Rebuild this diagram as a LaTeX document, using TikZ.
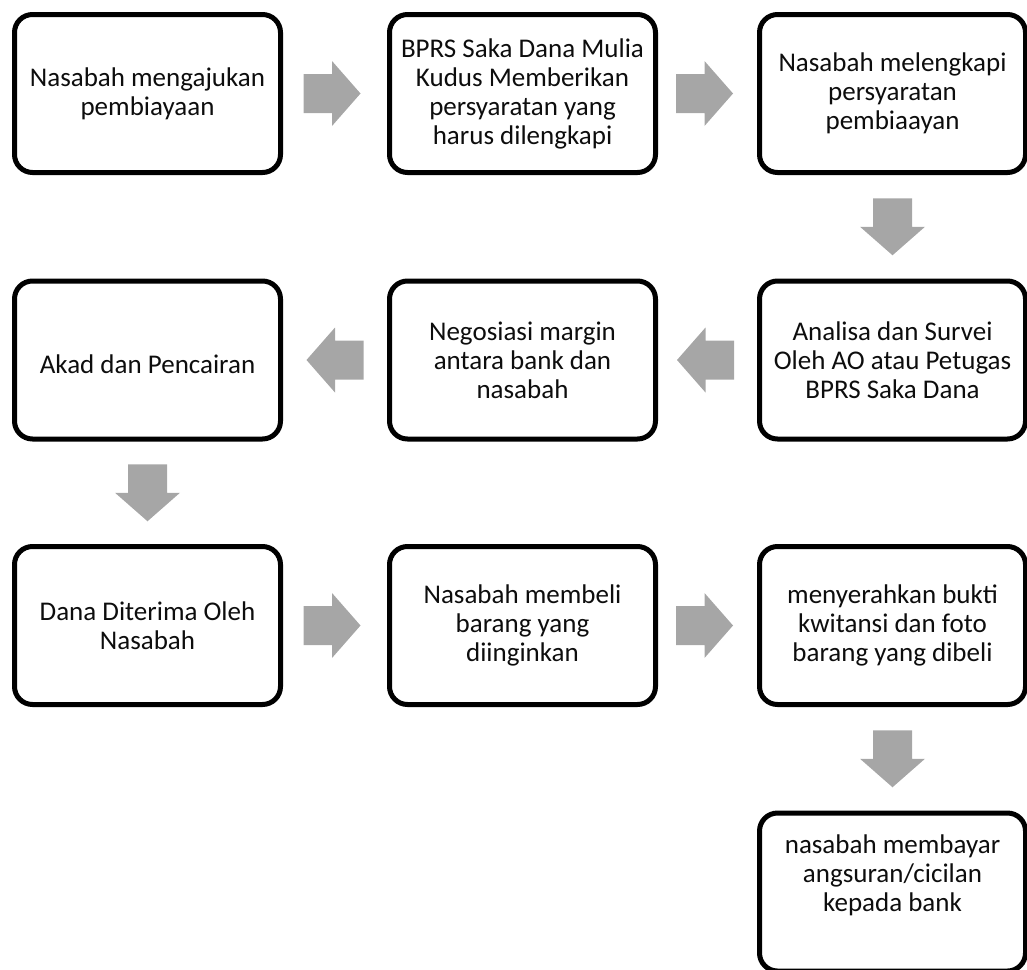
\documentclass[tikz,border=0pt]{standalone}
\usepackage{fontspec}
\setmainfont{Carlito}
\usetikzlibrary{calc}
\definecolor{arrowgray}{HTML}{A6A6A6}
\definecolor{txtcol}{HTML}{0D0D0D}
\begin{document}
\begin{tikzpicture}[x=1pt,y=-1pt,
  stepbox/.style={draw=black, line width=5pt, rounded corners=18pt,
    minimum width=266pt, minimum height=158pt, align=center,
    inner sep=0pt, font=\fontsize{27}{29}\selectfont, text=txtcol,
    execute at begin node={\rule{0pt}{27pt}}},
  boxtext/.style={align=center, inner sep=0pt,
    font=\fontsize{27}{29}\selectfont, text=txtcol},
  blockarrow/.pic={\fill[arrowgray] (-28.5,-19.5) -- (0,-19.5) -- (0,-32.5)
    -- (28.5,0) -- (0,32.5) -- (0,19.5) -- (-28.5,19.5) -- cycle;}]
\useasboundingbox (0,0) rectangle (1027,969);
% row 1
\node[stepbox] (b1) at (147.5,93.5) {Nasabah mengajukan\\pembiayaan};
\node[stepbox] (b2) at (522.5,93.5) {BPRS Saka Dana Mulia\\Kudus Memberikan\\persyaratan yang\\harus dilengkapi};
\node[stepbox] (b3) at (892.5,93.5) {Nasabah melengkapi\\persyaratan\\pembiaayan};
% row 2
\node[stepbox] (b4) at (892.5,360) {Analisa dan Survei\\Oleh AO atau Petugas\\BPRS Saka Dana};
\node[stepbox] (b5) at (522.5,360) {Negosiasi margin\\antara bank dan\\nasabah};
\node[stepbox] (b6) at (147.5,360) {Akad dan Pencairan};
% row 3
\node[stepbox] (b7) at (147.5,625.5) {Dana Diterima Oleh\\Nasabah};
\node[stepbox] (b8) at (522.5,625.5) {Nasabah membeli\\barang yang\\diinginkan};
\node[stepbox] (b9) at (892.5,625.5) {menyerahkan bukti\\kwitansi dan foto\\barang yang dibeli};
% row 4
\node[stepbox, execute at begin node={}] (b10) at (892.5,892) {};
\node[boxtext] (b10t) at ([yshift=17pt]b10.center) {nasabah membayar\\angsuran/cicilan\\kepada bank};
% block arrows between boxes
\pic at ([xshift=-3pt]$(b1.east)!0.5!(b2.west)$) {blockarrow};
\pic at ([xshift=-3pt]$(b2.east)!0.5!(b3.west)$) {blockarrow};
\pic[rotate=-90] at ($(b3.south)!0.5!(b4.north)$) {blockarrow};
\pic[rotate=180] at ([xshift=-2pt]$(b4.west)!0.5!(b5.east)$) {blockarrow};
\pic[rotate=180] at ([xshift=0pt]$(b5.west)!0.5!(b6.east)$) {blockarrow};
\pic[rotate=-90] at ($(b6.south)!0.5!(b7.north)$) {blockarrow};
\pic at ([xshift=-3pt]$(b7.east)!0.5!(b8.west)$) {blockarrow};
\pic at ([xshift=-3pt]$(b8.east)!0.5!(b9.west)$) {blockarrow};
\pic[rotate=-90] at ($(b9.south)!0.5!(b10.north)$) {blockarrow};
\end{tikzpicture}
\end{document}
